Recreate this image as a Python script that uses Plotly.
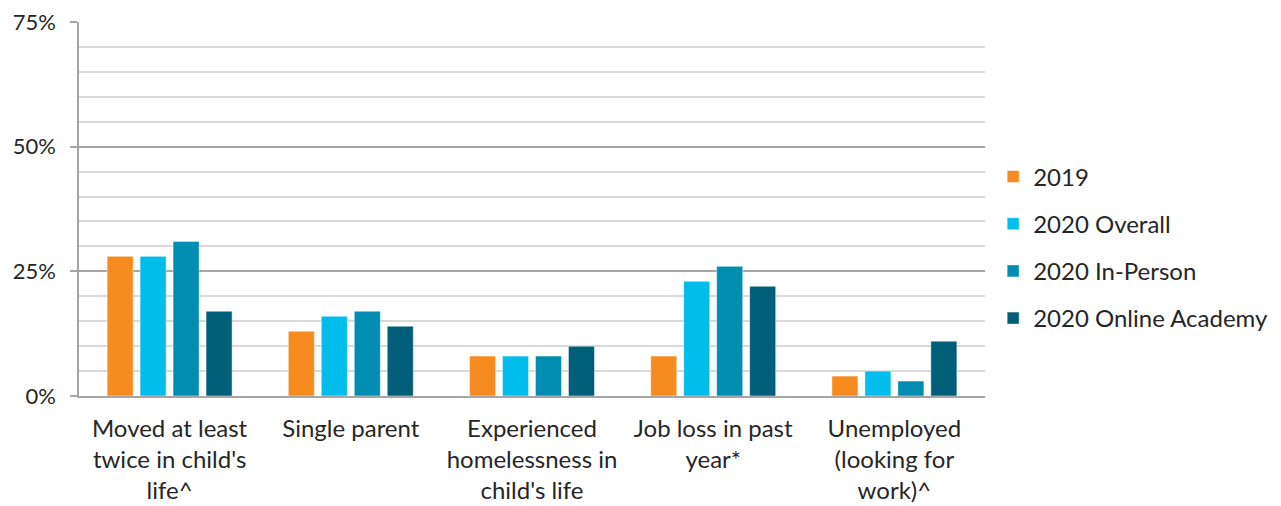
import plotly.graph_objects as go

# Household circumstances by survey group (percent of families)
categories = [
    "Moved at least<br>twice in child's<br>life^",
    "Single parent",
    "Experienced<br>homelessness in<br>child's life",
    "Job loss in past<br>year*",
    "Unemployed<br>(looking for<br>work)^",
]
series_names = ["2019", "2020 Overall", "2020 In-Person", "2020 Online Academy"]
values_2019 = [28, 13, 8, 8, 4]
values_2020_overall = [28, 16, 8, 23, 5]
values_2020_in_person = [31, 17, 8, 26, 3]
values_2020_online = [17, 14, 10, 22, 11]
y_tick_values = [0, 25, 50, 75]
y_tick_labels = ["0%", "25%", "50%", "75%"]

colors = ["#F68B1F", "#00BDEC", "#008DB1", "#005F78"]
series_values = [values_2019, values_2020_overall, values_2020_in_person, values_2020_online]

FONT = "Lato, 'Open Sans', sans-serif"
TEXT = "#262626"

fig = go.Figure()
for i, (name, vals) in enumerate(zip(series_names, series_values)):
    fig.add_trace(go.Bar(
        x=categories,
        y=vals,
        name=name,
        legendgroup=f"g{i}",
        marker=dict(color=colors[i], line=dict(color="rgba(255,255,255,0.6)", width=0.8)),
    ))

fig.update_layout(
    width=1281,
    height=506,
    margin=dict(l=79, r=296, t=22, b=110, autoexpand=False),
    paper_bgcolor="white",
    plot_bgcolor="white",
    barmode="group",
    bargap=0.272,
    bargroupgap=0.21,
    font=dict(family=FONT, size=24, color=TEXT),
    legend=dict(
        x=1.009, xanchor="left",
        y=0.646, yanchor="top",
        font=dict(family=FONT, size=24, color=TEXT),
        tracegroupgap=13,
        itemwidth=30,
        bgcolor="rgba(0,0,0,0)",
    ),
    showlegend=True,
)

fig.update_xaxes(
    automargin=False,
    showline=True, linecolor="#A6A6A6", linewidth=1.5,
    showgrid=False, ticks="", ticklabelstandoff=10,
    tickfont=dict(family=FONT, size=24, color=TEXT),
    fixedrange=True,
)

fig.update_yaxes(
    automargin=False,
    range=[0, 75],
    tickvals=y_tick_values,
    ticktext=y_tick_labels,
    showline=True, linecolor="#A6A6A6", linewidth=1.5,
    showgrid=True, gridcolor="#A6A6A6", gridwidth=1.5,
    ticks="outside", ticklen=7, tickcolor="#A6A6A6", tickwidth=1.5,
    ticklabelstandoff=10,
    minor=dict(dtick=5, showgrid=True, gridcolor="#D9D9D9", gridwidth=1.5),
    zeroline=False,
    tickfont=dict(family=FONT, size=22, color=TEXT),
    fixedrange=True,
)

fig.write_html("out.html")
